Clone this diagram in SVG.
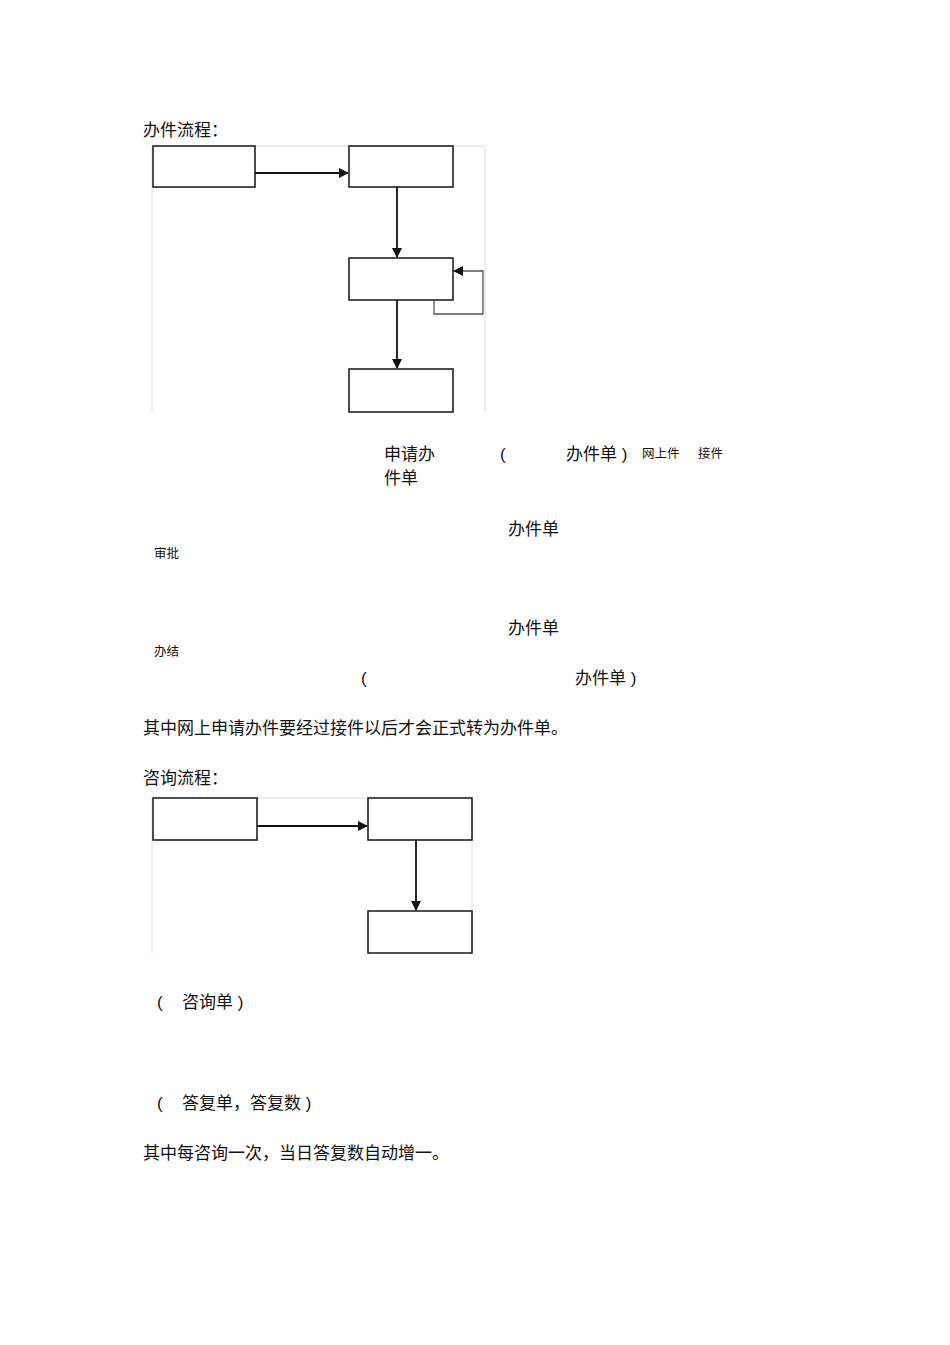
<svg xmlns="http://www.w3.org/2000/svg" width="950" height="1345" viewBox="0 0 950 1345">
<style>
text{font-family:"Liberation Sans","Noto Sans CJK SC",sans-serif;fill:#111;font-size:17px}
.s{font-size:12.5px}
.box{fill:#fff;stroke:#222;stroke-width:1.6}
.frame{fill:none;stroke:#ddd;stroke-width:1}
.c{fill:none;stroke:#111;stroke-width:1.8}
</style>
<defs><marker id="a" markerWidth="10" markerHeight="10" refX="9" refY="5" orient="auto" markerUnits="userSpaceOnUse"><path d="M0,0 L10,5 L0,10z" fill="#111"/></marker></defs>
<rect x="0" y="0" width="950" height="1345" fill="#fff"/>
<text x="143" y="136">办件流程：</text>
<g id="frame1"><path class="frame" d="M152,146 V412 M485,146 V412 M255,146 H485"/></g>
<g id="n1"><rect class="box" x="153" y="146" width="102" height="41"/></g>
<g id="n2"><rect class="box" x="349" y="146" width="104" height="41"/></g>
<g id="n3"><rect class="box" x="349" y="258" width="104" height="42"/></g>
<g id="n4"><rect class="box" x="349" y="369" width="104" height="43"/></g>
<g id="connectors">
<path class="c" d="M255,173 H348" stroke-width="2.5" marker-end="url(#a)"/>
<path class="c" d="M397,187 V257" marker-end="url(#a)"/>
<path class="c" d="M397,300 V368" marker-end="url(#a)"/>
<path d="M434,300 V314 H483 V271 H454" fill="none" stroke="#555" stroke-width="1.3" marker-end="url(#a)"/>
<path class="c" d="M257,826 H367" marker-end="url(#a)"/>
<path class="c" d="M416,840 V910" marker-end="url(#a)"/>
</g>
<text x="384" y="460">申请办</text>
<text x="384" y="484">件单</text>
<text x="500" y="460">(</text>
<text x="566" y="460">办件单 )</text>
<text class="s" x="642" y="458">网上件</text>
<text class="s" x="698" y="458">接件</text>
<text x="508" y="535">办件单</text>
<text class="s" x="154" y="558">审批</text>
<text x="508" y="634">办件单</text>
<text class="s" x="154" y="656">办结</text>
<text x="361" y="684">(</text>
<text x="575" y="684">办件单 )</text>
<text x="143" y="734">其中网上申请办件要经过接件以后才会正式转为办件单。</text>
<text x="143" y="784">咨询流程：</text>
<g id="frame2"><path class="frame" d="M152,798 V953 M472,798 V953 M257,798 H368"/></g>
<g id="n5"><rect class="box" x="153" y="798" width="104" height="42"/></g>
<g id="n6"><rect class="box" x="368" y="798" width="104" height="42"/></g>
<g id="n7"><rect class="box" x="368" y="911" width="104" height="42"/></g>
<text x="157" y="1008">(</text>
<text x="182" y="1008">咨询单 )</text>
<text x="157" y="1109">(</text>
<text x="182" y="1109">答复单，答复数 )</text>
<text x="143" y="1159">其中每咨询一次，当日答复数自动增一。</text>
</svg>
